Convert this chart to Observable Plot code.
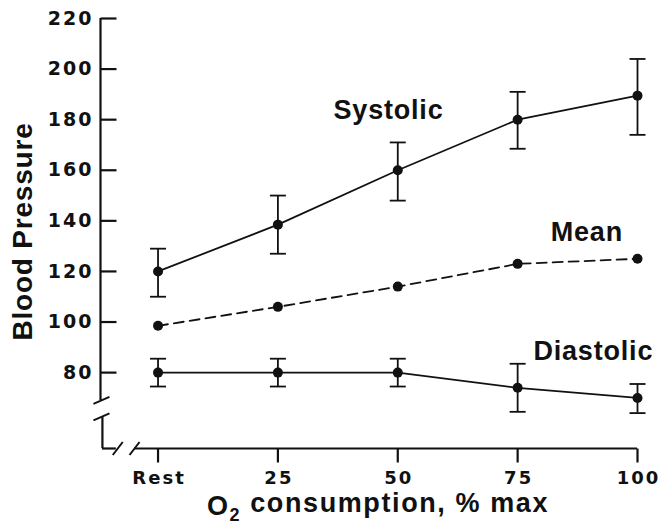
<!DOCTYPE html>
<html><head><meta charset="utf-8">
<script src="https://cdn.jsdelivr.net/npm/d3@7"></script>
<script src="https://cdn.jsdelivr.net/npm/@observablehq/plot@0.6"></script>
<style>body{margin:0;background:#fff} svg{display:block;background:#fff}</style>
</head><body><div id="chart"></div>
<script>
// ---- data ----
const xValues = [0, 25, 50, 75, 100];
const xTickLabels = ["Rest", "25", "50", "75", "100"];
const yTicks = [80, 100, 120, 140, 160, 180, 200, 220];
const systolic   = [120, 138.5, 160, 180, 189.5];
const systolicHi = [129, 150, 171, 191, 204];
const systolicLo = [110, 127, 148, 168.5, 174];
const meanBP     = [98.5, 106, 114, 123, 125];
const diastolic   = [80, 80, 80, 74, 70];
const diastolicHi = [85.5, 85.5, 85.5, 83.5, 75.5];
const diastolicLo = [74.5, 74.5, 74.5, 64.5, 64];
const seriesNames = ["Systolic", "Mean", "Diastolic"];
const labelX = [36.6, 81.9, 78.3];
const labelY = [183.6, 135.4, 88.3];
const yTitle = "Blood Pressure";
const xTitle = "O2 consumption, % max";

// axis geometry (data units)
const yAxisAt = -12, xAxisAt = 50;
const yBreakTop = 69, yBreakBottom = 62.5;
const xBreakLeft = -8.4, xBreakRight = -4.9;

const rows = xValues.map((x, i) => ({x, xl: xTickLabels[i],
  sys: systolic[i], sysHi: systolicHi[i], sysLo: systolicLo[i],
  mean: meanBP[i], dia: diastolic[i], diaHi: diastolicHi[i], diaLo: diastolicLo[i]}));
const labels = seriesNames.map((name, i) => ({name, x: labelX[i], y: labelY[i]}));

// custom symbols
const capSym = {draw(c){c.moveTo(-8,0);c.lineTo(8,0);}};
const tickRight = {draw(c){c.moveTo(0,0);c.lineTo(16,0);}};
const tickDown = {draw(c){c.moveTo(0,0);c.lineTo(0,14);}};
const slashY = {draw(c){c.moveTo(-8,3.5);c.lineTo(8,-3.5);}};
const slashX = {draw(c){c.moveTo(-5,6.5);c.lineTo(5,-6.5);}};

const ink = "#111";
const sans = "'Liberation Sans', Arial, sans-serif";
const tickFont = "'DejaVu Sans', sans-serif";
const lw = 1.8;

const errMarks = (lo, hi) => [
  Plot.ruleX(rows, {x: "x", y1: lo, y2: hi, stroke: ink, strokeWidth: lw}),
  Plot.dot(rows, {x: "x", y: hi, symbol: capSym, fill: "none", stroke: ink, strokeWidth: lw}),
  Plot.dot(rows, {x: "x", y: lo, symbol: capSym, fill: "none", stroke: ink, strokeWidth: lw})
];

const chart = Plot.plot({
  width: 664, height: 527,
  marginLeft: 100, marginRight: 27, marginTop: 18, marginBottom: 79,
  x: {domain: [-12, 100], axis: null},
  y: {domain: [50, 220], axis: null},
  marks: [
    // axes
    Plot.ruleX([yAxisAt], {y1: yBreakTop, y2: 220, stroke: ink, strokeWidth: 2.2}),
    Plot.ruleX([yAxisAt + 0.4], {y1: xAxisAt, y2: yBreakBottom, stroke: ink, strokeWidth: 2.2}),
    Plot.ruleY([xAxisAt], {x1: yAxisAt + 0.4, x2: xBreakLeft - 0.3, stroke: ink, strokeWidth: 2.2}),
    Plot.ruleY([xAxisAt], {x1: xBreakRight, x2: 100, stroke: ink, strokeWidth: 2.2}),
    Plot.dot([yBreakTop, yBreakBottom], {x: () => yAxisAt + 0.2, y: d => d, symbol: slashY, fill: "none", stroke: ink, strokeWidth: 2}),
    Plot.dot([xBreakLeft, xBreakRight], {x: d => d, y: () => xAxisAt, symbol: slashX, fill: "none", stroke: ink, strokeWidth: 2}),
    Plot.dot(yTicks, {x: () => yAxisAt, y: d => d, symbol: tickRight, fill: "none", stroke: ink, strokeWidth: 2.2}),
    Plot.dot(rows, {x: "x", y: () => xAxisAt, symbol: tickDown, fill: "none", stroke: ink, strokeWidth: 2.2}),
    Plot.text(yTicks, {x: () => yAxisAt, y: d => d, text: d => String(d), textAnchor: "end", dx: -7,
      fontSize: 19, fontWeight: "bold", fontFamily: tickFont, fill: ink}),
    Plot.text(rows, {x: "x", y: () => xAxisAt, text: "xl", textAnchor: "middle", dy: 30, dx: 1,
      fontSize: 18, fontWeight: "bold", fontFamily: tickFont, fill: ink}),
    // data
    ...errMarks("sysLo", "sysHi"),
    ...errMarks("diaLo", "diaHi"),
    Plot.line(rows, {x: "x", y: "sys", stroke: ink, strokeWidth: lw}),
    Plot.line(rows, {x: "x", y: "dia", stroke: ink, strokeWidth: lw}),
    Plot.line(rows, {x: "x", y: "mean", stroke: ink, strokeWidth: lw, strokeDasharray: "10,6"}),
    Plot.dot(rows, {x: "x", y: "sys", r: 5, fill: ink}),
    Plot.dot(rows, {x: "x", y: "dia", r: 5, fill: ink}),
    Plot.dot(rows, {x: "x", y: "mean", r: 5, fill: ink}),
    // series labels
    Plot.text(labels, {x: "x", y: "y", text: "name", textAnchor: "start", lineAnchor: "middle",
      fontSize: 27, fontWeight: "bold", fontFamily: sans, fill: ink}),
    // axis titles
    Plot.text([yTitle], {frameAnchor: "left", text: d => d, rotate: -90, dx: -77, dy: -2,
      textAnchor: "middle", lineAnchor: "middle", fontSize: 28, fontWeight: "bold", fontFamily: sans, fill: ink}),
    Plot.text([xTitle], {frameAnchor: "bottom", text: d => d, dx: 9, dy: 58,
      textAnchor: "middle", lineAnchor: "middle", fontSize: 27, fontWeight: "bold", fontFamily: sans, fill: ink})
  ]
});
document.getElementById("chart").appendChild(chart);

const svg = d3.select(chart);
const tickSet = new Set([...yTicks.map(String), ...xTickLabels]);
svg.selectAll("text").each(function() {
  const s = this.textContent;
  const t = d3.select(this);
  if (tickSet.has(s)) t.style("letter-spacing", "2px");
  else if (seriesNames.includes(s)) t.style("letter-spacing", "0.8px");
  else if (s === yTitle) t.style("letter-spacing", "0.8px");
  else if (s === xTitle) {
    t.text("").style("letter-spacing", "1.6px").attr("xml:space", "preserve");
    t.append("tspan").text("O");
    t.append("tspan").attr("font-size", 18).attr("dy", "0.35em").text("2");
    t.append("tspan").attr("dy", "-0.35em").text(" consumption, % max");
  }
});
</script></body></html>
